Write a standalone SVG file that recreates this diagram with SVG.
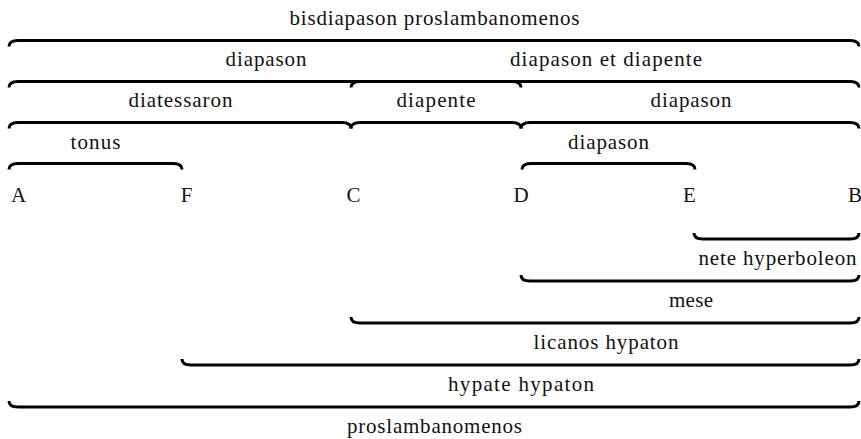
<svg xmlns="http://www.w3.org/2000/svg" width="861" height="439" viewBox="0 0 861 439">
<style>
.b{fill:none;stroke:#000;stroke-width:3;stroke-linecap:butt}
.t{font-family:'Liberation Serif','DejaVu Serif','Times New Roman',serif;font-size:21px;fill:#111;text-anchor:middle}
</style>
<rect width="861" height="439" fill="#fff"/>
<g id="connectors">
<path class="b" d="M9,46.5 C9,42.5 12,40.5 18,40.5 H850 C856,40.5 859,42.5 859,46.5"/>
<path class="b" d="M9,87.5 C9,83.5 12,81.5 18,81.5 H512 C518,81.5 521,83.5 521,87.5"/>
<path class="b" d="M351,87.5 C351,83.5 354,81.5 360,81.5 H850 C856,81.5 859,83.5 859,87.5"/>
<path class="b" d="M9,128.5 C9,124.5 12,122.5 18,122.5 H342 C348,122.5 351,124.5 351,128.5"/>
<path class="b" d="M351,128.5 C351,124.5 354,122.5 360,122.5 H512 C518,122.5 521,124.5 521,128.5"/>
<path class="b" d="M521,128.5 C521,124.5 524,122.5 530,122.5 H850 C856,122.5 859,124.5 859,128.5"/>
<path class="b" d="M9,169.5 C9,165.5 12,163.5 18,163.5 H173 C179,163.5 182,165.5 182,169.5"/>
<path class="b" d="M522,169.5 C522,165.5 525,163.5 531,163.5 H686 C692,163.5 695,165.5 695,169.5"/>
<path class="b" d="M694,233 C694,237 697,239 703,239 H850 C856,239 859,237 859,233"/>
<path class="b" d="M521,275 C521,279 524,281 530,281 H850 C856,281 859,279 859,275"/>
<path class="b" d="M351,317 C351,321 354,323 360,323 H850 C856,323 859,321 859,317"/>
<path class="b" d="M182,359 C182,363 185,365 191,365 H850 C856,365 859,363 859,359"/>
<path class="b" d="M9,401 C9,405 12,407 18,407 H850 C856,407 859,405 859,401"/>
</g>
<g id="labels-top" class="t">
<text class="t" x="434.5" y="24.5" textLength="290" lengthAdjust="spacing">bisdiapason proslambanomenos</text>
<text class="t" x="266" y="66" textLength="81" lengthAdjust="spacing">diapason</text>
<text class="t" x="606" y="66" textLength="192" lengthAdjust="spacing">diapason et diapente</text>
<text class="t" x="180.5" y="107" textLength="104" lengthAdjust="spacing">diatessaron</text>
<text class="t" x="436" y="107" textLength="79" lengthAdjust="spacing">diapente</text>
<text class="t" x="691" y="107" textLength="81" lengthAdjust="spacing">diapason</text>
<text class="t" x="95.5" y="148.5" textLength="50" lengthAdjust="spacing">tonus</text>
<text class="t" x="608.5" y="148.5" textLength="81" lengthAdjust="spacing">diapason</text>
</g>
<g id="notes" class="t">
<g id="A"><text class="t" x="18.5" y="202">A</text></g>
<g id="F"><text class="t" x="186.5" y="202">F</text></g>
<g id="C"><text class="t" x="353.5" y="202">C</text></g>
<g id="D"><text class="t" x="521" y="202">D</text></g>
<g id="E"><text class="t" x="689.5" y="202">E</text></g>
<g id="B"><text class="t" x="855" y="202">B</text></g>
</g>
<g id="labels-bottom" class="t">
<text class="t" x="777.5" y="265" textLength="158" lengthAdjust="spacing">nete hyperboleon</text>
<text class="t" x="691" y="307" textLength="44" lengthAdjust="spacing">mese</text>
<text class="t" x="606" y="349" textLength="145" lengthAdjust="spacing">licanos hypaton</text>
<text class="t" x="521" y="391" textLength="146" lengthAdjust="spacing">hypate hypaton</text>
<text class="t" x="434.5" y="433" textLength="175" lengthAdjust="spacing">proslambanomenos</text>
</g>
</svg>
